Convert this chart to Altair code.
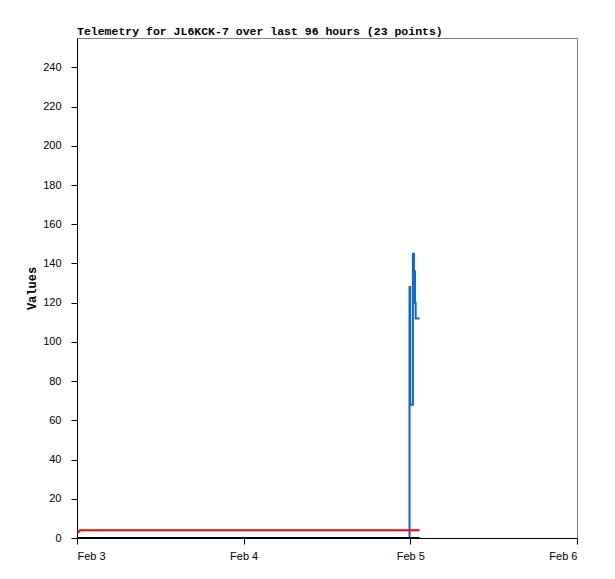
import altair as alt
import pandas as pd

times = [
    "2024-02-03T00:05", "2024-02-03T00:15", "2024-02-03T00:25",
    "2024-02-03T04:00", "2024-02-03T08:00", "2024-02-03T12:00",
    "2024-02-03T16:00", "2024-02-03T20:00",
    "2024-02-04T00:00", "2024-02-04T04:00", "2024-02-04T08:00",
    "2024-02-04T12:00", "2024-02-04T16:00", "2024-02-04T20:00",
    "2024-02-04T22:00", "2024-02-04T23:50", "2024-02-04T23:53",
    "2024-02-04T23:58", "2024-02-05T00:22", "2024-02-05T00:31",
    "2024-02-05T00:40", "2024-02-05T00:46", "2024-02-05T01:20",
]
blue_vals = [0] * 16 + [128, 68, 145, 136, 120, 112, 112]
red_vals = [3, 3, 4] + [4] * 20
black_vals = [0] * 23

df = pd.DataFrame({"time": times, "blue": blue_vals, "red": red_vals, "black": black_vals})

x_dom = [alt.DateTime(year=2024, month=2, date=3), alt.DateTime(year=2024, month=2, date=6)]
x_ticks = [alt.DateTime(year=2024, month=2, date=d) for d in (3, 4, 5, 6)]

xenc = alt.X(
    "time:T",
    scale=alt.Scale(domain=x_dom),
    axis=alt.Axis(values=x_ticks, format="%b %-d", title=None, grid=False,
                  tickSize=6, labelPadding=6, domainColor="black", tickColor="black",
                  labelFont="Liberation Sans", labelFontSize=11, labelColor="black"),
)

def yenc(col):
    return alt.Y(
        f"{col}:Q",
        scale=alt.Scale(domain=[0, 255], nice=False),
        axis=alt.Axis(values=list(range(0, 241, 20)), title="Values", grid=False,
                      tickSize=6, labelPadding=10, domainColor="black", tickColor="black",
                      labelFont="Liberation Sans", labelFontSize=11, labelColor="black",
                      titleFont="Liberation Mono", titleFontSize=12, titleFontWeight="bold",
                      titleColor="black", titlePadding=4),
    )

base = alt.Chart(df)
blue = base.mark_line(color="#0a66cc", strokeWidth=2, interpolate="step-after").encode(x=xenc, y=yenc("blue"))
red = base.mark_line(color="#ff0000", strokeWidth=2).encode(x=xenc, y=yenc("red"))
black = base.mark_line(color="#000000", strokeWidth=2).encode(x=xenc, y=yenc("black"))

chart = alt.layer(blue, red, black).properties(
    width=500, height=500,
    title=alt.TitleParams("Telemetry for JL6KCK-7 over last 96 hours (23 points)",
                          anchor="start", frame="group", font="Liberation Mono", fontSize=11.5,
                          fontWeight="bold", color="black", offset=1),
    autosize=alt.AutoSizeParams(type="none"),
    padding={"left": 69, "top": 30, "right": 20, "bottom": 30},
).configure_view(stroke="#808080", strokeWidth=1)

chart.save("out.html", embed_options={"renderer": "svg", "actions": False})
